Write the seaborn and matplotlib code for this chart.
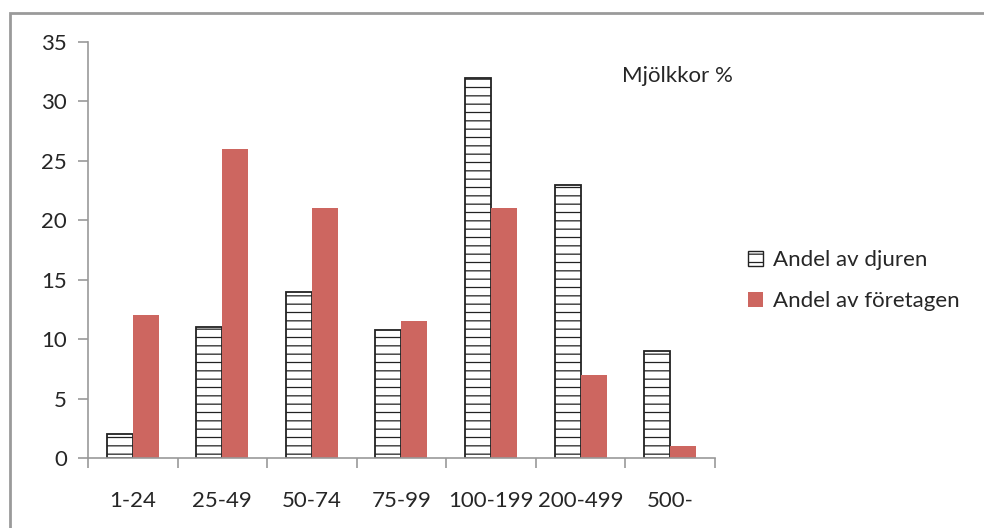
import numpy as np
import pandas as pd
import matplotlib
matplotlib.use("Agg")
import matplotlib.pyplot as plt
import seaborn as sns
from matplotlib.patches import Patch

# storleksgrupper (antal mjölkkor) och andelar i %
groups = ["1-24", "25-49", "50-74", "75-99", "100-199", "200-499", "500-"]
andel_djuren = [2, 11, 14, 10.8, 32, 23, 9]
andel_foretagen = [12, 26, 21, 11.5, 21, 7, 1]
series = ["Andel av djuren", "Andel av företagen"]

df = pd.DataFrame({
    "grupp": groups * 2,
    "andel": andel_djuren + andel_foretagen,
    "serie": [series[0]] * len(groups) + [series[1]] * len(groups),
})

sns.set_style("white")
plt.rcParams["font.family"] = ["Lato", "DejaVu Sans"]
plt.rcParams["hatch.linewidth"] = 0.9
FS = 16

fig = plt.figure(figsize=(9.84, 5.28), dpi=100)
ax = fig.add_axes([0.0894, 0.1326, 0.6372, 0.7879])

sns.barplot(data=df, x="grupp", y="andel", hue="serie", order=groups,
            hue_order=series, palette=["white", "#cd6660"], width=0.58,
            saturation=1, ax=ax, legend=False)


def hatch_it(p):
    p.set_edgecolor("#222222")
    p.set_linewidth(1.3)
    p.set_hatch("--")
    try:
        p.set_hatchcolor("#666666")
    except AttributeError:
        pass


# mönster på första serien, ingen kant på den röda
n = len(groups)
for i, p in enumerate(ax.patches[:2 * n]):
    if i < n:
        hatch_it(p)
    else:
        p.set_edgecolor("none")

ax.set_xlim(-0.5, n - 0.5)
ax.set_ylim(0, 35)
ax.set_yticks(range(0, 36, 5))
ax.set_xlabel("")
ax.set_ylabel("")
ax.set_xticks(np.arange(-0.5, n, 1), minor=True)
ax.tick_params(axis="x", which="major", bottom=False, pad=20, labelsize=FS)
ax.tick_params(axis="x", which="minor", bottom=True, length=7, width=1.2,
               color="#999999", direction="out")
ax.tick_params(axis="y", left=True, length=7, width=1.2, color="#999999",
               direction="out", labelsize=FS, pad=8)
for s in ["top", "right"]:
    ax.spines[s].set_visible(False)
for s in ["left", "bottom"]:
    ax.spines[s].set_color("#999999")
    ax.spines[s].set_linewidth(1.2)

ax.text(0.94, 0.918, "Mjölkkor %", transform=ax.transAxes, fontsize=FS,
        ha="center", va="center")

h1 = Patch(facecolor="white", edgecolor="#222222", hatch="--", lw=1)
try:
    h1.set_hatchcolor("#666666")
except AttributeError:
    pass
handles = [h1, Patch(facecolor="#cd6660", edgecolor="none")]
fig.legend(handles, series, loc="center left", bbox_to_anchor=(0.74, 0.468),
           frameon=False, fontsize=FS, handlelength=0.65, handleheight=0.65,
           handletextpad=0.45, labelspacing=0.95)

# ram runt diagrammet (höger och nederkant utanför bilden)
fig.add_artist(plt.Rectangle((0.0105, -0.1), 1.2, 1.0755, transform=fig.transFigure,
                             fill=False, edgecolor="#9a9a9a", lw=2))

fig.savefig("out.png", dpi=100)
